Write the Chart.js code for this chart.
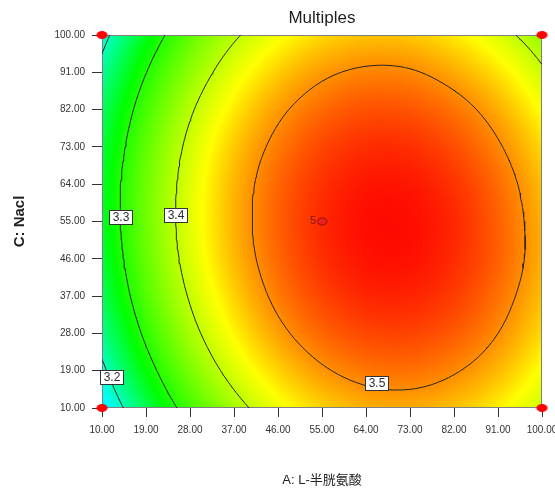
<!DOCTYPE html>
<html>
<head>
<meta charset="utf-8">
<script src="https://cdn.jsdelivr.net/npm/chart.js@4.4.1/dist/chart.umd.min.js"></script>
<style>
  html, body { margin: 0; padding: 0; background: #ffffff; }
  #wrap { width: 555px; height: 494px; }
</style>
</head>
<body>
<div id="wrap"><canvas id="chart" width="555" height="494"></canvas></div>
<script>
// Factor levels at which the Multiples response surface is tabulated
const levelsA = [10, 19, 28, 37, 46, 55, 64, 73, 82, 91, 100];
const levelsC = [10, 19, 28, 37, 46, 55, 64, 73, 82, 91, 100];

// Multiples response: one row per C level (bottom to top), one column per A level
const multiples = [
  [3.154, 3.245, 3.321, 3.382, 3.430, 3.462, 3.480, 3.483, 3.472, 3.446, 3.406], // C = 10
  [3.190, 3.280, 3.356, 3.417, 3.463, 3.495, 3.512, 3.515, 3.503, 3.477, 3.435], // C = 19
  [3.219, 3.309, 3.384, 3.444, 3.490, 3.521, 3.537, 3.539, 3.527, 3.500, 3.458], // C = 28
  [3.241, 3.330, 3.404, 3.463, 3.509, 3.539, 3.555, 3.556, 3.543, 3.515, 3.473], // C = 37
  [3.255, 3.343, 3.417, 3.476, 3.520, 3.550, 3.565, 3.566, 3.552, 3.524, 3.481], // C = 46
  [3.262, 3.349, 3.422, 3.480, 3.524, 3.553, 3.568, 3.568, 3.554, 3.524, 3.481], // C = 55
  [3.261, 3.348, 3.420, 3.478, 3.521, 3.549, 3.563, 3.563, 3.548, 3.518, 3.474], // C = 64
  [3.253, 3.339, 3.411, 3.468, 3.510, 3.538, 3.551, 3.550, 3.534, 3.504, 3.459], // C = 73
  [3.237, 3.323, 3.394, 3.450, 3.492, 3.519, 3.532, 3.530, 3.514, 3.483, 3.437], // C = 82
  [3.214, 3.299, 3.369, 3.425, 3.466, 3.493, 3.505, 3.503, 3.485, 3.454, 3.407], // C = 91
  [3.184, 3.268, 3.338, 3.393, 3.433, 3.459, 3.471, 3.468, 3.450, 3.417, 3.371]  // C = 100
];

// Contour levels drawn and labelled
const contourLevels = [3.2, 3.3, 3.4, 3.5];

// Axis tick values (shown with two decimals)
const tickValues = [10, 19, 28, 37, 46, 55, 64, 73, 82, 91, 100];

// Design points: factorial corners and the replicated centre point
const cornerA = [10, 10, 100, 100];
const cornerC = [10, 100, 10, 100];
const centerA = [55];
const centerC = [55];
const centerRuns = ['5'];

// ---- styling ----
const SANS = "'Liberation Sans', Arial, sans-serif";
const colorStops = [
  [3.06, [0, 0, 255]],
  [3.17, [0, 255, 255]],
  [3.28, [0, 255, 0]],
  [3.44, [255, 255, 0]],
  [3.575, [255, 0, 0]]
];
// where each contour label sits: along a fixed C (scan A) or a fixed A (scan C)
const labelSpots = [
  { level: 3.2, along: 'C', at: 17.4, dx: 2, dy: 0 },
  { level: 3.3, along: 'C', at: 56.0, dx: 0, dy: 0 },
  { level: 3.4, along: 'C', at: 56.6, dx: 0, dy: 0 },
  { level: 3.5, along: 'A', at: 66.2, dx: 0, dy: -5 }
];

// ---- smooth surface through the tabulated grid (Catmull-Rom in both directions) ----
function extend(arr) {
  const n = arr.length;
  return [3 * arr[0] - 3 * arr[1] + arr[2], ...arr, 3 * arr[n - 1] - 3 * arr[n - 2] + arr[n - 3]];
}
const extendedRows = (() => {
  const rows = multiples.map(extend);
  const cols = rows[0].map((_, i) => extend(rows.map(r => r[i])));
  return cols[0].map((_, j) => cols.map(col => col[j]));
})();
function locate(levels, v) {
  let i = 0;
  while (i < levels.length - 2 && v > levels[i + 1]) i++;
  let t = (v - levels[i]) / (levels[i + 1] - levels[i]);
  t = Math.min(1, Math.max(0, t));
  return [i, t];
}
function cubic(p0, p1, p2, p3, t) {
  return p1 + 0.5 * t * (p2 - p0 + t * (2 * p0 - 5 * p1 + 4 * p2 - p3 + t * (3 * (p1 - p2) + p3 - p0)));
}
function surface(a, c) {
  const [i, s] = locate(levelsA, a);
  const [j, t] = locate(levelsC, c);
  const q = [0, 1, 2, 3].map(k => {
    const r = extendedRows[j + k];
    return cubic(r[i], r[i + 1], r[i + 2], r[i + 3], s);
  });
  return cubic(q[0], q[1], q[2], q[3], t);
}
function colorFor(v) {
  if (v <= colorStops[0][0]) return colorStops[0][1];
  for (let k = 0; k < colorStops.length - 1; k++) {
    const [v0, c0] = colorStops[k], [v1, c1] = colorStops[k + 1];
    if (v <= v1) {
      const t = (v - v0) / (v1 - v0);
      return [0, 1, 2].map(n => Math.round(c0[n] + (c1[n] - c0[n]) * t));
    }
  }
  return colorStops[colorStops.length - 1][1];
}

// ---- contour tracing (marching squares on a refined grid) ----
const SUB = 8;
function refine(levels) {
  const out = [];
  for (let i = 0; i < levels.length - 1; i++)
    for (let k = 0; k < SUB; k++) out.push(levels[i] + (levels[i + 1] - levels[i]) * k / SUB);
  out.push(levels[levels.length - 1]);
  return out;
}
function chain(segs) {
  const adj = new Map();
  segs.forEach((s, i) => s.forEach(k => { if (!adj.has(k)) adj.set(k, []); adj.get(k).push(i); }));
  const used = new Array(segs.length).fill(false);
  const lines = [];
  for (let i = 0; i < segs.length; i++) {
    if (used[i]) continue;
    used[i] = true;
    const line = [segs[i][0], segs[i][1]];
    for (const forward of [true, false]) {
      for (;;) {
        const end = forward ? line[line.length - 1] : line[0];
        const next = (adj.get(end) || []).find(j => !used[j]);
        if (next === undefined) break;
        used[next] = true;
        const s = segs[next];
        const other = s[0] === end ? s[1] : s[0];
        if (forward) line.push(other); else line.unshift(other);
      }
    }
    lines.push(line);
  }
  return lines;
}
function traceContour(level) {
  const xs = refine(levelsA), ys = refine(levelsC);
  const V = ys.map(c => xs.map(a => surface(a, c)));
  const pts = new Map();
  const segs = [];
  const hit = (key, a0, c0, v0, a1, c1, v1) => {
    if (!pts.has(key)) {
      const t = (level - v0) / (v1 - v0);
      pts.set(key, { x: a0 + (a1 - a0) * t, y: c0 + (c1 - c0) * t });
    }
    return key;
  };
  for (let j = 0; j < ys.length - 1; j++) {
    for (let i = 0; i < xs.length - 1; i++) {
      const v00 = V[j][i], v10 = V[j][i + 1], v01 = V[j + 1][i], v11 = V[j + 1][i + 1];
      const h = [];
      if ((v00 >= level) !== (v10 >= level)) h.push(hit(`h${i},${j}`, xs[i], ys[j], v00, xs[i + 1], ys[j], v10));
      if ((v10 >= level) !== (v11 >= level)) h.push(hit(`v${i + 1},${j}`, xs[i + 1], ys[j], v10, xs[i + 1], ys[j + 1], v11));
      if ((v01 >= level) !== (v11 >= level)) h.push(hit(`h${i},${j + 1}`, xs[i], ys[j + 1], v01, xs[i + 1], ys[j + 1], v11));
      if ((v00 >= level) !== (v01 >= level)) h.push(hit(`v${i},${j}`, xs[i], ys[j], v00, xs[i], ys[j + 1], v01));
      if (h.length === 2) segs.push([h[0], h[1]]);
      else if (h.length === 4) { segs.push([h[0], h[1]]); segs.push([h[2], h[3]]); }
    }
  }
  const data = [];
  chain(segs).forEach((line, n) => {
    if (n) data.push({ x: null, y: null });
    line.forEach(k => data.push(pts.get(k)));
  });
  return data;
}
function crossing(spot) {
  const step = 0.02;
  if (spot.along === 'C') {
    let prev = surface(10, spot.at);
    for (let a = 10 + step; a <= 100; a += step) {
      const v = surface(a, spot.at);
      if ((prev - spot.level) * (v - spot.level) <= 0) return { a, c: spot.at };
      prev = v;
    }
  } else {
    let prev = surface(spot.at, 10);
    for (let c = 10 + step; c <= 100; c += step) {
      const v = surface(spot.at, c);
      if ((prev - spot.level) * (v - spot.level) <= 0) return { a: spot.at, c };
      prev = v;
    }
  }
  return null;
}

// ---- point sprites ----
function ellipseSprite(w, h, fill, stroke) {
  const cv = document.createElement('canvas');
  cv.width = w + 2; cv.height = h + 2;
  const g = cv.getContext('2d');
  g.beginPath();
  g.ellipse(cv.width / 2, cv.height / 2, w / 2, h / 2, 0, 0, Math.PI * 2);
  g.fillStyle = fill; g.fill();
  if (stroke) { g.strokeStyle = stroke; g.lineWidth = 1; g.stroke(); }
  return cv;
}

// ---- plugins ----
const surfacePlugin = {
  id: 'surfaceFill',
  beforeDatasetsDraw(chart) {
    const { ctx, chartArea: ca, scales: { x, y } } = chart;
    const w = Math.round(ca.right - ca.left), h = Math.round(ca.bottom - ca.top);
    const off = document.createElement('canvas');
    off.width = w; off.height = h;
    const octx = off.getContext('2d');
    const img = octx.createImageData(w, h);
    for (let py = 0; py < h; py++) {
      const c = y.getValueForPixel(ca.top + py + 0.5);
      for (let px = 0; px < w; px++) {
        const a = x.getValueForPixel(ca.left + px + 0.5);
        const col = colorFor(surface(a, c));
        const k = (py * w + px) * 4;
        img.data[k] = col[0]; img.data[k + 1] = col[1]; img.data[k + 2] = col[2]; img.data[k + 3] = 255;
      }
    }
    octx.putImageData(img, 0, 0);
    ctx.save();
    ctx.drawImage(off, ca.left, ca.top);
    ctx.strokeStyle = '#808080';
    ctx.lineWidth = 1;
    ctx.strokeRect(Math.round(ca.left) + 0.5, Math.round(ca.top) + 0.5,
                   Math.round(ca.right - ca.left) - 1, Math.round(ca.bottom - ca.top) - 1);
    ctx.restore();
  }
};

const labelPlugin = {
  id: 'contourLabels',
  afterDatasetsDraw(chart) {
    const { ctx, scales: { x, y } } = chart;
    ctx.save();
    ctx.font = `12px ${SANS}`;
    ctx.textAlign = 'center';
    ctx.textBaseline = 'middle';
    labelSpots.forEach(spot => {
      const p = crossing(spot);
      if (!p) return;
      const px = x.getPixelForValue(p.a) + spot.dx, py = y.getPixelForValue(p.c) + spot.dy;
      const text = spot.level.toFixed(1);
      const bw = Math.round(ctx.measureText(text).width) + 6, bh = 14;
      const bx = Math.round(px - bw / 2) + 0.5, by = Math.round(py - bh / 2) + 0.5;
      ctx.fillStyle = '#ffffff';
      ctx.fillRect(bx, by, bw, bh);
      ctx.strokeStyle = '#333333';
      ctx.lineWidth = 1;
      ctx.strokeRect(bx, by, bw, bh);
      ctx.fillStyle = '#2b2b35';
      ctx.fillText(text, bx + bw / 2, by + bh / 2 + 0.5);
    });
    // replicate count next to the centre point
    ctx.font = `11px ${SANS}`;
    ctx.textAlign = 'right';
    ctx.fillStyle = '#7a1818';
    centerA.forEach((a, i) => {
      ctx.fillText(centerRuns[i], x.getPixelForValue(a) - 6, y.getPixelForValue(centerC[i]) - 1);
    });
    ctx.restore();
  }
};

// ---- datasets ----
const datasets = [
  {
    label: 'Centre point',
    data: centerA.map((a, i) => ({ x: a, y: centerC[i] })),
    pointStyle: ellipseSprite(9, 7, '#e8221e', '#8a1010'),
    pointRadius: 5,
    showLine: false,
    clip: false
  },
  {
    label: 'Design points',
    data: cornerA.map((a, i) => ({ x: a, y: cornerC[i] })),
    pointStyle: ellipseSprite(11, 8, '#ff0000', null),
    pointRadius: 6,
    showLine: false,
    clip: false
  },
  ...contourLevels.map(level => ({
    label: `Multiples = ${level}`,
    data: traceContour(level),
    showLine: true,
    spanGaps: false,
    borderColor: '#262626',
    borderWidth: 1,
    pointRadius: 0,
    fill: false
  }))
];

function fixedTicks(scale) {
  scale.ticks = tickValues.map(v => ({ value: v }));
}

new Chart(document.getElementById('chart'), {
  type: 'scatter',
  data: { datasets },
  options: {
    responsive: false,
    animation: false,
    events: [],
    layout: { padding: { left: 0, right: 13, top: 0, bottom: 0 } },
    plugins: {
      legend: { display: false },
      tooltip: { enabled: false },
      title: {
        display: true,
        text: 'Multiples',
        fullSize: false,
        color: '#1e1e1e',
        font: { family: SANS, size: 17, weight: 'normal', lineHeight: 1.2 },
        padding: { top: 8, bottom: 6.6 }
      }
    },
    scales: {
      x: {
        type: 'linear',
        position: 'bottom',
        min: 10,
        max: 100,
        afterBuildTicks: fixedTicks,
        afterFit(scale) { scale.height = 86; scale.paddingLeft = 0; scale.paddingRight = 0; },
        border: { display: false },
        grid: { drawOnChartArea: false, drawTicks: true, tickLength: 9, color: '#333333', lineWidth: 1 },
        ticks: {
          padding: 7,
          color: '#333333',
          maxRotation: 0,
          autoSkip: false,
          font: { family: SANS, size: 10 },
          callback: v => Number(v).toFixed(2)
        },
        title: {
          display: true,
          text: 'A: L-半胱氨酸',
          color: '#222222',
          font: { family: "'Liberation Sans', 'Noto Sans CJK SC', sans-serif", size: 13, lineHeight: 1.2 },
          padding: { top: 0, bottom: 6.2 }
        }
      },
      y: {
        type: 'linear',
        position: 'left',
        min: 10,
        max: 100,
        afterBuildTicks: fixedTicks,
        afterFit(scale) { scale.width = 102; scale.paddingTop = 0; scale.paddingBottom = 0; },
        border: { display: false },
        grid: { drawOnChartArea: false, drawTicks: true, tickLength: 10, color: '#333333', lineWidth: 1 },
        ticks: {
          padding: 7,
          color: '#333333',
          autoSkip: false,
          font: { family: SANS, size: 10 },
          callback: v => Number(v).toFixed(2)
        },
        title: {
          display: true,
          text: 'C: Nacl',
          color: '#222222',
          font: { family: SANS, size: 15, weight: 'bold', lineHeight: 1.2 },
          padding: { top: 11, bottom: 0 }
        }
      }
    }
  },
  plugins: [surfacePlugin, labelPlugin]
});
</script>
</body>
</html>
